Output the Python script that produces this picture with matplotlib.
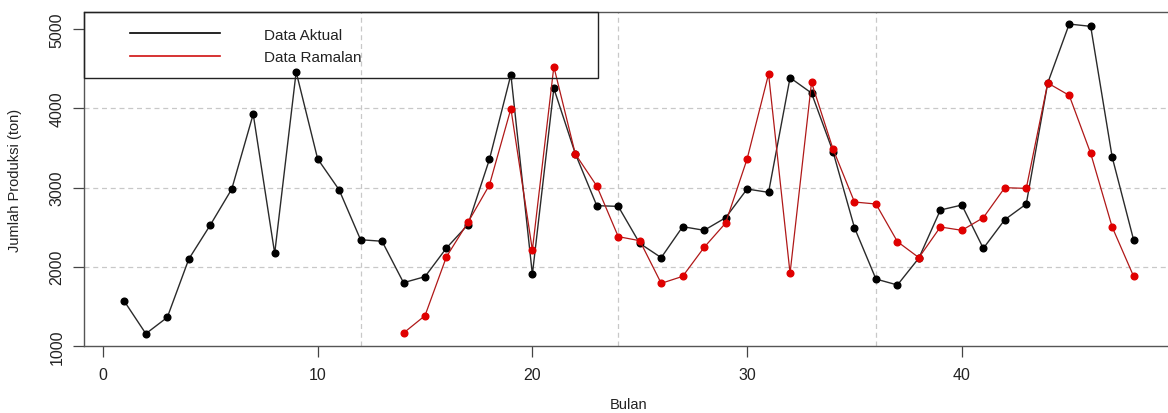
import numpy as np
import matplotlib
matplotlib.use("Agg")
import matplotlib.pyplot as plt
from matplotlib.patches import Rectangle
from matplotlib.lines import Line2D

plt.rcParams['font.family'] = ['Liberation Sans', 'DejaVu Sans']

# data
bulan_aktual = list(range(1, 49))
data_aktual = [1564, 1155, 1362, 2097, 2526, 2980, 3926, 2169, 4459, 3362,
               2971, 2341, 2322, 1799, 1875, 2237, 2531, 3355, 4424, 1904,
               4251, 3427, 2771, 2762, 2295, 2115, 2506, 2460, 2619, 2981,
               2939, 4386, 4192, 3452, 2493, 1845, 1770, 2110, 2716, 2779,
               2232, 2594, 2792, 4319, 5063, 5034, 3385, 2338]

bulan_ramalan = list(range(14, 49))
data_ramalan = [1164, 1383, 2127, 2560, 3032, 3995, 2211, 4525, 3423, 3019,
                2380, 2329, 1791, 1879, 2245, 2552, 3360, 4432, 1917, 4327,
                3486, 2817, 2792, 2317, 2115, 2502, 2460, 2619, 2998, 2989,
                4319, 4163, 3431, 2502, 1879]

x_ticks = [0, 10, 20, 30, 40]
y_ticks = [1000, 2000, 3000, 4000, 5000]
grid_h = [2000, 3000, 4000]
grid_v = [12, 24, 36]

W, H = 1168, 414
fig = plt.figure(figsize=(W / 100, H / 100), dpi=100)
ax = fig.add_axes([84 / W, 1 - 347 / H, (1174 - 84) / W, (347 - 13) / H])

for v in grid_h:
    ax.axhline(v, color='#c8c8c8', lw=0.9, ls=(0, (4, 3)), zorder=1)
for v in grid_v:
    ax.axvline(v, color='#c8c8c8', lw=0.9, ls=(0, (4, 3)), zorder=1)

ax.plot(bulan_aktual, data_aktual, color='#2a2a2a', lw=1.0, marker='o',
        ms=4.8, mfc='black', mec='black', zorder=3)
ax.plot(bulan_ramalan, data_ramalan, color='#b01818', lw=0.9, marker='o',
        ms=4.8, mfc='#e00000', mec='#e00000', zorder=4)

ax.set_xlim(-0.88, 49.88)
ax.set_ylim(1000, 5215)
ax.set_xticks(x_ticks)
ax.set_yticks(y_ticks)
ax.set_yticklabels([str(v) for v in y_ticks], rotation=90, va='center')
ax.tick_params(axis='both', length=8, width=0.9, color='#444444',
               labelsize=11.5, labelcolor='#222222')
ax.tick_params(axis='x', pad=7)
ax.tick_params(axis='y', pad=6)
for s in ax.spines.values():
    s.set_color('#555555')
    s.set_linewidth(1.0)

ax.set_xlabel('Bulan', fontsize=10.5, color='#222222', labelpad=11)
ax.set_ylabel('Jumlah Produksi (ton)', fontsize=10.5, color='#222222', labelpad=20)

# legend box, drawn in pixel-ish figure coords like the original (not filled)
fx = lambda px: px / W
fy = lambda py: 1 - py / H
fig.patches.append(Rectangle((fx(84), fy(79)), fx(598) - fx(84), fy(13) - fy(79),
                             transform=fig.transFigure, fill=False,
                             ec='#222222', lw=1.0, zorder=5))
fig.lines.append(Line2D([fx(130), fx(220)], [fy(34), fy(34)], transform=fig.transFigure,
                        color='black', lw=1.2, zorder=6))
fig.lines.append(Line2D([fx(130), fx(220)], [fy(57), fy(57)], transform=fig.transFigure,
                        color='#d01010', lw=1.2, zorder=6))
fig.text(fx(264), fy(36), 'Data Aktual', fontsize=11, va='center', ha='left',
         color='#222222', zorder=7)
fig.text(fx(264), fy(58), 'Data Ramalan', fontsize=11, va='center', ha='left',
         color='#222222', zorder=7)

fig.savefig('out.png', dpi=100)
